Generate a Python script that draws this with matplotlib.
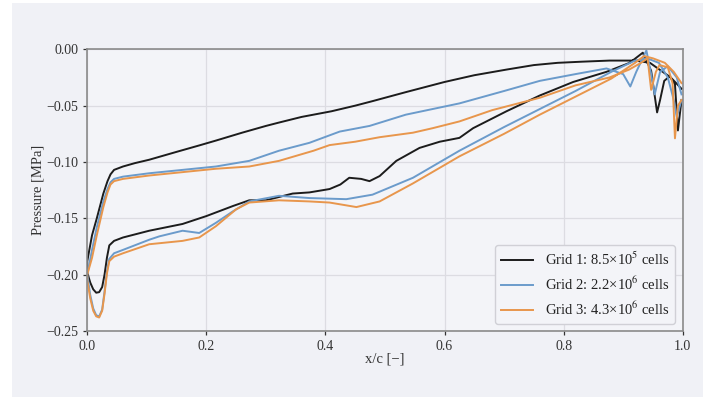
import matplotlib
matplotlib.use("Agg")
import matplotlib.pyplot as plt
import numpy as np
from matplotlib.patches import Rectangle

plt.rcParams["font.family"] = ["Liberation Serif", "DejaVu Serif"]
plt.rcParams["mathtext.fontset"] = "stix"

# Grid 1 (coarse)
g1_x_up = [0.0, 0.008, 0.016, 0.027, 0.034, 0.039, 0.045, 0.06, 0.08, 0.104, 0.15, 0.19,
           0.216, 0.26, 0.3, 0.322, 0.36, 0.41, 0.45, 0.479, 0.535, 0.6, 0.65, 0.704, 0.75,
           0.79, 0.83, 0.877, 0.92, 0.945, 0.961, 0.98, 0.998]
g1_p_up = [-0.188, -0.165, -0.150, -0.128, -0.117, -0.111, -0.107, -0.104, -0.101, -0.098,
           -0.091, -0.085, -0.081, -0.074, -0.068, -0.065, -0.060, -0.055, -0.050, -0.046,
           -0.038, -0.029, -0.023, -0.018, -0.014, -0.012, -0.011, -0.010, -0.010, -0.012,
           -0.018, -0.025, -0.035]
g1_x_lo = [0.0, 0.005, 0.01, 0.015, 0.02, 0.025, 0.029, 0.033, 0.037, 0.045, 0.06, 0.104,
           0.16, 0.2, 0.245, 0.272, 0.3, 0.345, 0.373, 0.407, 0.425, 0.44, 0.46, 0.474,
           0.491, 0.519, 0.558, 0.592, 0.625, 0.648, 0.704, 0.76, 0.816, 0.872, 0.911,
           0.933, 0.947, 0.957, 0.962, 0.969, 0.978, 0.987, 0.992, 0.998]
g1_p_lo = [-0.198, -0.207, -0.213, -0.216, -0.2155, -0.211, -0.200, -0.185, -0.174, -0.170,
           -0.167, -0.161, -0.155, -0.148, -0.139, -0.134, -0.134, -0.128, -0.127, -0.124,
           -0.120, -0.114, -0.115, -0.117, -0.1125, -0.099, -0.0875, -0.082, -0.0786,
           -0.070, -0.055, -0.041, -0.029, -0.020, -0.012, -0.003, -0.019, -0.056, -0.045,
           -0.028, -0.024, -0.031, -0.072, -0.045]

# Grid 2 (medium)
g2_x_up = [0.0, 0.008, 0.016, 0.027, 0.034, 0.039, 0.045, 0.06, 0.104, 0.16, 0.216, 0.272,
           0.322, 0.373, 0.424, 0.474, 0.535, 0.625, 0.7, 0.76, 0.82, 0.872, 0.9, 0.912,
           0.922, 0.939, 0.947, 0.953, 0.962, 0.975, 0.99, 0.998]
g2_p_up = [-0.200, -0.178, -0.158, -0.135, -0.124, -0.118, -0.115, -0.113, -0.110, -0.107,
           -0.104, -0.099, -0.090, -0.083, -0.073, -0.068, -0.058, -0.048, -0.037, -0.028,
           -0.022, -0.017, -0.022, -0.033, -0.020, -0.001, -0.022, -0.040, -0.020, -0.015,
           -0.025, -0.040]
g2_x_lo = [0.0, 0.005, 0.01, 0.015, 0.02, 0.025, 0.029, 0.033, 0.037, 0.045, 0.06, 0.104,
           0.121, 0.16, 0.188, 0.216, 0.244, 0.272, 0.322, 0.373, 0.435, 0.479, 0.547,
           0.625, 0.7, 0.76, 0.82, 0.88, 0.92, 0.94, 0.96, 0.975, 0.985, 0.99, 0.998]
g2_p_lo = [-0.200, -0.218, -0.230, -0.236, -0.237, -0.231, -0.215, -0.197, -0.186, -0.181,
           -0.178, -0.169, -0.166, -0.161, -0.163, -0.154, -0.144, -0.135, -0.130, -0.132,
           -0.133, -0.129, -0.114, -0.090, -0.069, -0.053, -0.037, -0.020, -0.010, -0.008,
           -0.012, -0.025, -0.045, -0.060, -0.045]

# Grid 3 (fine)
g3_x_up = [0.0, 0.008, 0.016, 0.027, 0.034, 0.039, 0.045, 0.06, 0.104, 0.16, 0.216, 0.272,
           0.322, 0.38, 0.407, 0.45, 0.491, 0.547, 0.58, 0.625, 0.68, 0.76, 0.82, 0.877,
           0.91, 0.93, 0.941, 0.947, 0.955, 0.961, 0.975, 0.983, 0.987, 0.992, 0.998]
g3_p_up = [-0.200, -0.185, -0.165, -0.140, -0.127, -0.120, -0.117, -0.115, -0.112, -0.109,
           -0.106, -0.104, -0.099, -0.090, -0.085, -0.082, -0.078, -0.074, -0.070, -0.064,
           -0.054, -0.043, -0.032, -0.025, -0.018, -0.012, -0.008, -0.036, -0.020, -0.014,
           -0.016, -0.030, -0.079, -0.050, -0.045]
g3_x_lo = [0.0, 0.005, 0.01, 0.015, 0.02, 0.025, 0.029, 0.033, 0.037, 0.045, 0.06, 0.104,
           0.16, 0.188, 0.216, 0.25, 0.272, 0.322, 0.373, 0.407, 0.452, 0.491, 0.547, 0.625,
           0.7, 0.76, 0.82, 0.88, 0.92, 0.935, 0.95, 0.97, 0.985, 0.998]
g3_p_lo = [-0.205, -0.221, -0.232, -0.237, -0.238, -0.232, -0.217, -0.199, -0.188, -0.184,
           -0.181, -0.173, -0.170, -0.167, -0.157, -0.142, -0.136, -0.134, -0.135, -0.136,
           -0.140, -0.135, -0.119, -0.095, -0.075, -0.058, -0.042, -0.026, -0.012, -0.006,
           -0.008, -0.012, -0.020, -0.030]

labels = [r"Grid 1: 8.5×10$^{5}$ cells", r"Grid 2: 2.2×10$^{6}$ cells",
          r"Grid 3: 4.3×10$^{6}$ cells"]
colors = ["#1c1c1c", "#6b9bcb", "#e8964c"]

grids = [(g1_x_up, g1_p_up, g1_x_lo, g1_p_lo),
         (g2_x_up, g2_p_up, g2_x_lo, g2_p_lo),
         (g3_x_up, g3_p_up, g3_x_lo, g3_p_lo)]

fig = plt.figure(figsize=(7.13, 3.97), dpi=100, facecolor="white")
fig.patches.append(Rectangle((12 / 713, 0), 691 / 713, 394 / 397, transform=fig.transFigure,
                             facecolor="#f0f1f6", edgecolor="none", zorder=-10))
ax = fig.add_axes([0.1224, 0.1662, 0.8351, 0.7096])
ax.set_facecolor("#f3f4f8")

for (xu, pu, xl, pl), lab, c in zip(grids, labels, colors):
    # upper surface from trailing edge to leading edge, then lower surface back
    x = np.concatenate([np.array(xu)[::-1], xl])
    p = np.concatenate([np.array(pu)[::-1], pl])
    ax.plot(x, p, color=c, lw=1.4, label=lab)

ax.set_xlim(0, 1)
ax.set_ylim(-0.25, 0)
ax.set_xticks([0.0, 0.2, 0.4, 0.6, 0.8, 1.0])
ax.set_yticks([0.0, -0.05, -0.10, -0.15, -0.20, -0.25])
ax.yaxis.set_major_formatter(matplotlib.ticker.FuncFormatter(lambda v, _: f"{v:.2f}".replace("-", "\u2212")))
ax.grid(True, color="#dcdce2", lw=0.9)
ax.set_axisbelow(True)
for s in ax.spines.values():
    s.set_color("#8a8a8a")
    s.set_linewidth(1.2)
ax.tick_params(labelsize=10, colors="#333333", length=3, width=0.9)
ax.set_xlabel("x/c [\u2212]", fontsize=10.5, color="#333333")
ax.set_ylabel("Pressure [MPa]", fontsize=10.5, color="#333333")
ax.xaxis.set_label_coords(0.5, -0.078)
ax.yaxis.set_label_coords(-0.071, 0.5)

leg = ax.legend(loc="lower right", fontsize=10.5, frameon=True, facecolor="#f3f4f8",
                edgecolor="#d0d0d6", framealpha=1, handlelength=2.2)
for t in leg.get_texts():
    t.set_color("#222222")

fig.savefig("out.png", dpi=100, facecolor=fig.get_facecolor())
